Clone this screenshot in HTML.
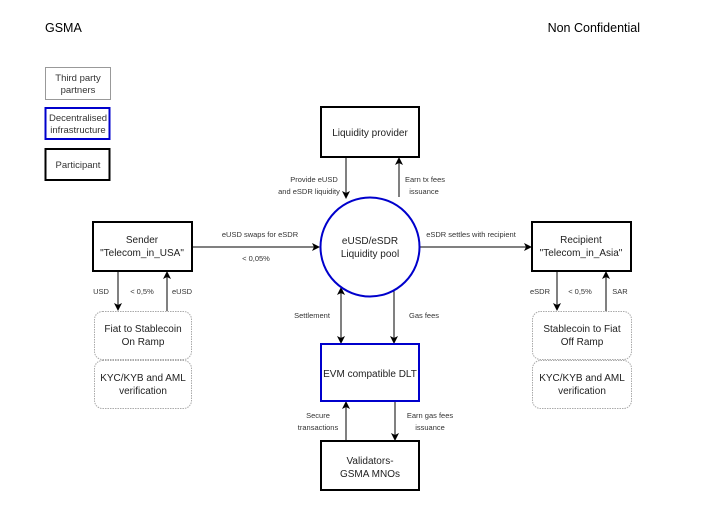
<!DOCTYPE html>
<html><head><meta charset="utf-8"><style>
body{margin:0;background:#fff;}
svg{display:block;font-family:"Liberation Sans",Arial,sans-serif;}
</style></head><body>
<svg width="714" height="518" viewBox="0 0 714 518" xmlns="http://www.w3.org/2000/svg">
<defs><marker id="a" markerWidth="8" markerHeight="8" refX="7" refY="4" orient="auto" markerUnits="userSpaceOnUse"><path d="M0,0 L8,4 L0,8 L2,4 z" fill="#000"/></marker>
<marker id="s" markerWidth="8" markerHeight="8" refX="1" refY="4" orient="auto" markerUnits="userSpaceOnUse"><path d="M8,0 L0,4 L8,8 L6,4 z" fill="#000"/></marker></defs>
<text x="45" y="32" font-size="12.5">GSMA</text>
<text x="640" y="32" font-size="12.5" text-anchor="end">Non Confidential</text>
<g font-size="9.5" fill="#333" text-anchor="middle">
<rect x="45.5" y="67.5" width="65" height="32" fill="#fff" stroke="#999"/>
<text x="78" y="81">Third party</text><text x="78" y="93">partners</text>
<rect x="45.5" y="108" width="64" height="31" fill="#fff" stroke="#0000cc" stroke-width="2"/>
<text x="78" y="121">Decentralised</text><text x="78" y="133">infrastructure</text>
<rect x="45.5" y="149" width="64" height="31" fill="#fff" stroke="#000" stroke-width="2"/>
<text x="78" y="168">Participant</text>
</g>
<g stroke="#000" stroke-width="1" fill="none">
<line x1="192" y1="247" x2="319" y2="247" marker-end="url(#a)"/>
<line x1="419" y1="247" x2="531" y2="247" marker-end="url(#a)"/>
<line x1="118" y1="271" x2="118" y2="310" marker-end="url(#a)"/>
<line x1="167" y1="311" x2="167" y2="272" marker-end="url(#a)"/>
<line x1="557" y1="271" x2="557" y2="310" marker-end="url(#a)"/>
<line x1="606" y1="311" x2="606" y2="272" marker-end="url(#a)"/>
<line x1="346" y1="157" x2="346" y2="198" marker-end="url(#a)"/>
<line x1="399" y1="197" x2="399" y2="158" marker-end="url(#a)"/>
<line x1="341" y1="288" x2="341" y2="343" marker-start="url(#s)" marker-end="url(#a)"/>
<line x1="394" y1="290" x2="394" y2="343" marker-end="url(#a)"/>
<line x1="346" y1="441" x2="346" y2="402" marker-end="url(#a)"/>
<line x1="395" y1="401" x2="395" y2="440" marker-end="url(#a)"/>
</g>
<g fill="#fff">
<rect x="321" y="107" width="98" height="50" stroke="#000" stroke-width="2"/>
<circle cx="370" cy="247" r="49.5" stroke="#0000cc" stroke-width="2"/>
<rect x="93" y="222" width="99" height="49" stroke="#000" stroke-width="2"/>
<rect x="532" y="222" width="99" height="49" stroke="#000" stroke-width="2"/>
<rect x="321" y="344" width="98" height="57" stroke="#0000cc" stroke-width="2"/>
<rect x="321" y="441" width="98" height="49" stroke="#000" stroke-width="2"/>
<g stroke="#aaa" stroke-dasharray="1.5,1">
<rect x="94.5" y="311.5" width="97" height="48" rx="8"/>
<rect x="94.5" y="360.5" width="97" height="48" rx="8"/>
<rect x="532.5" y="311.5" width="99" height="48" rx="8"/>
<rect x="532.5" y="360.5" width="99" height="48" rx="8"/>
</g></g>
<g font-size="10" fill="#222" text-anchor="middle">
<text x="370" y="136">Liquidity provider</text>
<text x="370" y="244">eUSD/eSDR</text><text x="370" y="257">Liquidity pool</text>
<text x="142" y="243">Sender</text><text x="142" y="256">"Telecom_in_USA"</text>
<text x="581" y="243">Recipient</text><text x="581" y="256">"Telecom_in_Asia"</text>
<text x="370" y="377">EVM compatible DLT</text>
<text x="370" y="464">Validators-</text><text x="370" y="477">GSMA MNOs</text>
<text x="143" y="332">Fiat to Stablecoin</text><text x="143" y="345">On Ramp</text>
<text x="143" y="381">KYC/KYB and AML</text><text x="143" y="394">verification</text>
<text x="582" y="332">Stablecoin to Fiat</text><text x="582" y="345">Off Ramp</text>
<text x="582" y="381">KYC/KYB and AML</text><text x="582" y="394">verification</text>
</g>
<g font-size="7.5" fill="#333" text-anchor="middle">
<text x="260" y="237">eUSD swaps for eSDR</text>
<text x="256" y="261">&lt; 0,05%</text>
<text x="471" y="237">eSDR settles with recipient</text>
<text x="101" y="294">USD</text><text x="142" y="294">&lt; 0,5%</text><text x="182" y="294">eUSD</text>
<text x="540" y="294">eSDR</text><text x="580" y="294">&lt; 0,5%</text><text x="620" y="294">SAR</text>
<text x="314" y="182">Provide eUSD</text><text x="309" y="194">and eSDR liquidity</text>
<text x="425" y="182">Earn tx fees</text><text x="424" y="194">issuance</text>
<text x="312" y="318">Settlement</text>
<text x="424" y="318">Gas fees</text>
<text x="318" y="418">Secure</text><text x="318" y="430">transactions</text>
<text x="430" y="418">Earn gas fees</text><text x="430" y="430">issuance</text>
</g>
</svg>
</body></html>
